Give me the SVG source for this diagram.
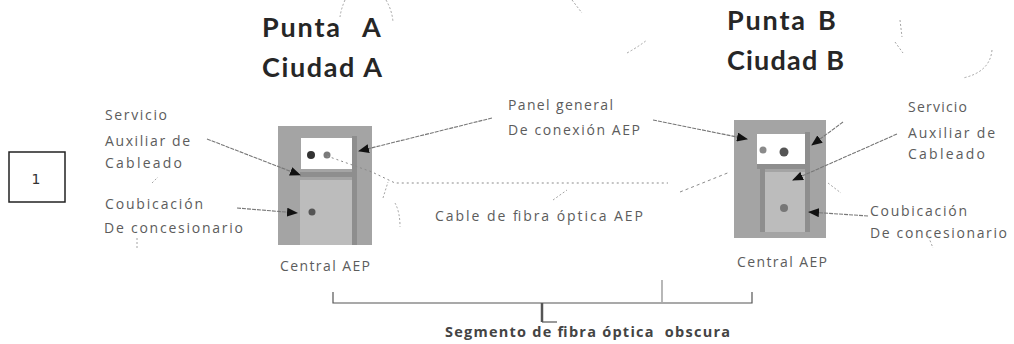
<svg xmlns="http://www.w3.org/2000/svg" width="1014" height="344" viewBox="0 0 1014 344">
<defs>
<marker id="ah" markerUnits="userSpaceOnUse" markerWidth="11" markerHeight="9" refX="10" refY="4.5" orient="auto">
<path d="M0,0 L11,4.5 L0,9 z" fill="#111"/>
</marker>
<style>
.title{font-family:Lato,"Liberation Sans",sans-serif;font-weight:bold;font-size:27px;fill:#262626}
.lbl{font-family:"Open Sans","Liberation Sans",Arial,sans-serif;font-size:14px;fill:#5c5c5c}
.seg{font-family:"Open Sans","Liberation Sans",Arial,sans-serif;font-size:14.5px;font-weight:bold;fill:#444}
.lead{fill:none;stroke:#777;stroke-width:1.1;stroke-dasharray:4 1}
.arr{marker-end:url(#ah)}
.noise{fill:none;stroke:#9a9a9a;stroke-width:0.9;stroke-dasharray:2 2}
.box{fill:#a4a4a4}
.inner{fill:#bcbcbc}
.strip{fill:#8e8e8e}
.panel{fill:#fff}
.brk{fill:none;stroke:#555;stroke-width:1.2}
</style>
</defs>
<rect width="1014" height="344" fill="#fff"/>

<g id="box-1">
<rect x="9" y="152" width="56" height="50" fill="none" stroke="#222" stroke-width="1.5"/>
<text x="36" y="184" text-anchor="middle" font-family="DejaVu Sans,sans-serif" font-size="14" fill="#333">1</text>
</g>

<g id="title-a">
<text class="title" y="37"><tspan x="262" textLength="78" lengthAdjust="spacing">Punta</tspan> <tspan x="362">A</tspan></text>
<text class="title" x="262" y="77" textLength="120" lengthAdjust="spacing">Ciudad A</text>
</g>
<g id="title-b">
<text class="title" y="30"><tspan x="727" textLength="78" lengthAdjust="spacing">Punta</tspan> <tspan x="818">B</tspan></text>
<text class="title" x="727" y="70" textLength="117" lengthAdjust="spacing">Ciudad B</text>
</g>

<g id="central-a">
<rect class="box" x="278" y="126" width="94" height="119"/>
<rect class="inner" x="300" y="180" width="52" height="65"/>
<rect class="strip" x="352" y="136" width="5" height="109"/>
<rect class="strip" x="300" y="172" width="57" height="5"/>
<rect class="panel" x="301" y="138" width="51" height="31"/>
<circle cx="311" cy="155" r="4" fill="#333"/>
<circle cx="327" cy="155" r="3.5" fill="#7a7a7a"/>
<circle cx="312" cy="212" r="3.5" fill="#555"/>
<text class="lbl" x="280" y="271" textLength="90" lengthAdjust="spacing">Central AEP</text>
</g>

<g id="central-b">
<rect class="box" x="734" y="120" width="92" height="118"/>
<rect class="inner" x="765" y="172" width="40" height="60"/>
<rect class="strip" x="805" y="132" width="5" height="100"/>
<rect class="strip" x="757" y="164" width="53" height="5"/>
<rect class="strip" x="760" y="169" width="5" height="63"/>
<rect class="panel" x="757" y="134" width="48" height="30"/>
<circle cx="763" cy="150" r="3.5" fill="#8a8a8a"/>
<circle cx="784" cy="152" r="4.5" fill="#555"/>
<circle cx="784" cy="208" r="4" fill="#777"/>
<text class="lbl" x="737" y="267" textLength="90" lengthAdjust="spacing">Central AEP</text>
</g>

<g id="labels-left">
<text class="lbl" x="105" y="120" textLength="62" lengthAdjust="spacing">Servicio</text>
<text class="lbl" x="105" y="146" textLength="85" lengthAdjust="spacing">Auxiliar de</text>
<text class="lbl" x="105" y="168" textLength="77" lengthAdjust="spacing">Cableado</text>
<text class="lbl" x="105" y="209" textLength="98" lengthAdjust="spacing">Coubicación</text>
<text class="lbl" x="104" y="233" textLength="139" lengthAdjust="spacing">De concesionario</text>
</g>

<g id="labels-right">
<text class="lbl" x="908" y="112" textLength="59" lengthAdjust="spacing">Servicio</text>
<text class="lbl" x="908" y="138" textLength="87" lengthAdjust="spacing">Auxiliar de</text>
<text class="lbl" x="908" y="159" textLength="77" lengthAdjust="spacing">Cableado</text>
<text class="lbl" x="870" y="216" textLength="97" lengthAdjust="spacing">Coubicación</text>
<text class="lbl" x="870" y="238" textLength="137" lengthAdjust="spacing">De concesionario</text>
</g>

<g id="label-panel">
<text class="lbl" x="508" y="110" textLength="105" lengthAdjust="spacing">Panel general</text>
<text class="lbl" x="508" y="135" textLength="132" lengthAdjust="spacing">De conexión AEP</text>
</g>

<g id="label-cable">
<text class="lbl" x="435" y="221" textLength="208" lengthAdjust="spacing">Cable de fibra óptica AEP</text>
</g>

<g id="label-segment">
<text class="seg" x="445" y="337" textLength="285" lengthAdjust="spacing" xml:space="preserve">Segmento de fibra óptica  obscura</text>
</g>

<g id="connectors">
<path class="lead arr" d="M207,139 L300,175"/>
<path class="lead arr" d="M237,208 L297,213"/>
<path class="lead arr" d="M492,118 L359,151"/>
<path class="lead arr" d="M653,120 L747,139"/>
<path class="lead arr" d="M843,122 L812,145"/>
<path class="lead arr" d="M897,134 L793,180"/>
<path class="lead arr" d="M868,216 L809,212"/>
<path fill="none" stroke="#8a8a8a" stroke-width="1" stroke-dasharray="2 3" d="M327,156 L372,172 L395,183 L668,183"/>
<path fill="none" stroke="#8a8a8a" stroke-width="1" stroke-dasharray="3 3" d="M680,192 L730,172"/>
<path class="brk" d="M333,292 L333,303 L752,303 L752,292"/>
<path fill="none" stroke="#555" stroke-width="2.5" d="M542,303 L542,322"/>
<path class="brk" d="M542,322 L557,322"/>
</g>

<g id="scan-marks">
<path class="noise" d="M345,0 Q341,9 340,17"/>
<path class="noise" d="M386,0 Q392,10 393,22"/>
<path class="noise" d="M572,0 L582,13"/>
<path class="noise" d="M627,53 Q638,47 647,40"/>
<path class="noise" d="M900,20 L902,37"/>
<path class="noise" d="M895,42 L903,53"/>
<path class="noise" d="M992,50 Q990,72 963,78"/>
<path class="noise" d="M152,183 L158,177"/>
<path class="noise" d="M137,238 L137,248"/>
<path class="noise" d="M927,233 L933,248"/>
<path class="noise" d="M383,198 L388,182"/>
<path class="noise" d="M395,203 Q400,212 400,227"/>
<path class="noise" d="M553,200 L567,190"/>
<path class="noise" d="M828,183 L841,193"/>
<path fill="none" stroke="#888" stroke-width="1.2" d="M662,280 L662,302"/>
</g>
</svg>
